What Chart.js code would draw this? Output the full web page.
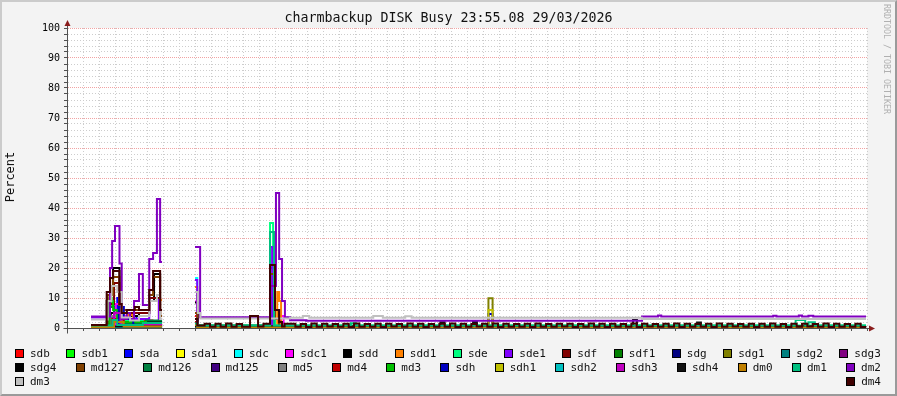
<!DOCTYPE html>
<html>
<head>
<meta charset="utf-8">
<script src="https://cdn.jsdelivr.net/npm/chart.js@4.4.1/dist/chart.umd.min.js"></script>
<style>
  html, body { margin: 0; padding: 0; }
  #wrap { position: relative; width: 897px; height: 396px; background: #f3f3f3; overflow: hidden;
          font-family: "DejaVu Sans Mono", monospace; }
  #chart { position: absolute; left: 0; top: 0; }
  #frame { position: absolute; left: 0; top: 0; width: 897px; height: 396px; box-sizing: border-box;
           border-top: 2px solid #cbcbcb; border-left: 2px solid #cbcbcb;
           border-right: 2px solid #9a9a9a; border-bottom: 2px solid #9a9a9a; pointer-events: none; }
  #title { position: absolute; left: 0; top: 10px; width: 897px; text-align: center; font-size: 13.3px; color: #111; }
  #ylabel { position: absolute; left: -20px; top: 170px; width: 60px; text-align: center; font-size: 12px;
            transform: rotate(-90deg); color: #111; }
  #mark { position: absolute; left: 882px; top: 4px; writing-mode: vertical-rl; font-size: 8.3px; color: #b0b0b0; }
  .row { position: absolute; left: 15px; width: 866px; height: 14px; display: flex; justify-content: space-between;
         align-items: center; font-size: 11px; line-height: 14px; color: #111; }
  .item { display: flex; align-items: center; white-space: pre; }
  .box { width: 7px; height: 7px; border: 1px solid #000; margin-right: 6px; }
</style>
</head>
<body>
<div id="wrap">
  <canvas id="chart" width="897" height="396"></canvas>
  <div id="title">charmbackup DISK Busy 23:55.08 29/03/2026</div>
  <div id="ylabel">Percent</div>
  <div id="mark">RRDTOOL / TOBI OETIKER</div>
  <div id="legend"></div>
  <div id="frame"></div>
</div>
<script>
// series names and colours, in rrdtool legend order
const names = ["sdb","sdb1","sda","sda1","sdc","sdc1","sdd","sdd1","sde","sde1","sdf","sdf1","sdg","sdg1","sdg2","sdg3",
               "sdg4","md127","md126","md125","md5","md4","md3","sdh","sdh1","sdh2","sdh3","sdh4","dm0","dm1","dm2",
               "dm3","dm4"];
const colors = ["#FF0000","#00FF00","#0000FF","#FFFF00","#00FFFF","#FF00FF","#000000","#FF8000","#00FF80","#8000FF",
                "#800000","#008000","#000080","#808000","#008080","#800080","#000000","#804000","#008040","#400080",
                "#808080","#C00000","#00C000","#0000C0","#C0C000","#00C0C0","#C000C0","#111111","#C08000","#00C080",
                "#8000C0","#C0C0C0","#400000"];
const legendRows = [16, 15, 2];

// x axis: hours from Monday 00:00
const xMin = -0.97, xMax = 24.03;
const xTickHours = [0, 3, 6, 9, 12, 15, 18, 21];
const xTickLabels = ["Mon 00:00","Mon 03:00","Mon 06:00","Mon 09:00","Mon 12:00","Mon 15:00","Mon 18:00","Mon 21:00"];
const yLabelValues = [0, 10, 20, 30, 40, 50, 60, 70, 80, 90, 100];

// each series: [hour, percent] change points, value holds until the next point; null = no data from there
const sdb   = [[-0.22,0.6],[0.4,3],[0.75,1.5],[1.3,2.5],[1.7,1],[2.0,null],[3.03,4],[3.1,0.4],[24,null]];
const sdb1  = [[-0.22,0.5],[0.36,10],[0.44,7],[0.53,4],[0.7,1.2],[1.6,2],[2.0,null],[3.03,2],[3.1,0.3],[24,null]];
const sda   = [[-0.22,0.4],[0.6,10],[0.7,7],[0.8,2],[1.0,4],[1.2,2],[2.0,null],[3.03,5],[3.1,0.3],[24,null]];
const sda1  = [[-0.22,0.5],[0.5,5],[0.75,2],[1.0,3],[1.3,2],[2.0,null],[3.03,12],[3.1,0.5],[24,null]];
const sdc   = [[-0.22,0.3],[0.4,3],[0.8,2],[2.0,null],[3.03,16.7],[3.1,0.4],[5.375,10],[5.45,0.4],[24,null]];
const sdc1  = [[-0.22,0.4],[0.55,8],[0.75,4],[1.0,1.5],[2.0,null],[3.03,8.8],[3.1,0.4],[5.7,4],[5.8,0.4],[24,null]];
const sdd   = [[-0.22,0.8],[0.27,9],[0.375,14],[0.47,20],[0.67,6],[0.74,3],[1.0,4],[1.28,5],[1.6,9],[1.75,18],[1.94,4],
               [2.0,null],[3.03,8.5],[3.12,0.8],[5.375,20],[5.53,6],[5.66,0.5],[24,null]];
const sdd1  = [[-0.22,0.5],[0.5,6],[0.7,3],[0.9,4.3],[1.1,2],[1.9,9.3],[2.0,null],[3.03,13.7],[3.1,0.5],[5.6,12],[5.66,9],
               [5.72,0.5],[24,null]];
const sde   = [[-0.22,0.8],[0.5,2.5],[1.4,2],[2.0,null],[3.03,1.5],[3.1,0.8],[5.375,35],[5.47,26],[5.53,0.8],[24,null]];
const sde1  = [[-0.22,3.5],[0.5,15],[0.67,3],[1.6,10],[1.9,3],[2.0,null],[3.03,16],[3.1,0.6],[5.375,27],[5.44,0.6],[24,null]];
const sdf   = [[-0.22,0.8],[0.3,8],[0.5,15],[0.67,5],[1.6,10],[1.94,3],[2.0,null],[3.03,3],[3.1,0.6],[24,null]];
const sdf1  = [[-0.22,0.3],[0.4,3],[0.7,1],[2.0,null],[3.03,1],[3.1,0.3],[24,null]];
const sdg   = [[-0.22,0.2],[2.0,null],[3.03,0.5],[24,null]];
const sdg1  = [[-0.22,0.2],[2.0,null],[3.03,0.3],[12.2,9.9],[12.33,0.3],[24,null]];
const sdg2  = [[-0.22,0.3],[0.5,2],[0.8,0.5],[2.0,null],[3.03,2],[3.1,0.5],[24,null]];
const sdg3  = [[-0.22,0.4],[0.5,3],[0.8,1],[2.0,null],[3.03,1],[3.1,0.4],[24,null]];
const sdg4  = [[-0.22,0.6],[0.4,5],[0.7,2],[2.0,null],[3.03,2],[3.1,0.6],[24,null]];
const md127 = [[-0.22,0.6],[0.3,11],[0.47,17],[0.67,6],[1.6,11],[1.72,17],[1.94,4],[2.0,null],[3.03,5],[3.1,0.5],
               [5.375,18],[5.53,3],[5.66,0.5],[24,null]];
const md126 = [[-0.22,0.5],[0.36,7],[0.5,3],[0.7,1.5],[1.5,2.5],[2.0,null],[3.03,2],[3.1,0.6],[24,null]];
const md125 = [[-0.22,0.3],[0.5,2],[0.8,0.5],[2.0,null],[3.03,1],[3.1,0.3],[24,null]];
const md5   = [[-0.22,0.5],[0.4,4],[0.75,1],[2.0,null],[3.03,2],[3.1,0.5],[24,null]];
const md4   = [[-0.22,0.4],[0.45,3],[0.8,1],[2.0,null],[3.03,2],[3.1,0.4],[24,null]];
const md3   = [[-0.22,0.5],[0.36,9],[0.47,6],[0.6,2],[1.5,1.5],[2.0,null],[3.03,1],[3.1,0.4],[24,null]];
const sdh   = [[-0.22,0.3],[0.65,7],[0.8,3],[1.1,1],[2.0,null],[3.03,3],[3.1,0.3],[12.2,4.7],[12.33,0.3],[24,null]];
const sdh1  = [[-0.22,0.3],[2.0,null],[3.03,0.3],[12.2,6],[12.33,0.3],[24,null]];
const sdh2  = [[-0.22,0.3],[2.0,null],[3.03,0.4],[24,null]];
const sdh3  = [[-0.22,0.3],[0.5,5],[0.7,1],[2.0,null],[3.03,1],[3.1,0.3],[24,null]];
const sdh4  = [[-0.22,0.5],[2.0,null],[3.03,0.5],[10.7,1.9],[10.83,0.5],[11.72,2],[11.84,0.5],[16.72,2.7],[16.84,0.5],
               [18.72,1.8],[18.84,0.5],[24,null]];
const dm0   = [[-0.22,0.3],[0.5,2],[0.8,0.5],[2.0,null],[3.03,1],[3.1,0.2],[24,null]];
const dm1   = [[-0.22,0.8],[0.45,2.7],[0.6,1],[1.4,1.7],[2.0,null],[3.03,1.5],[3.1,0.8],[5.375,32],[5.5,0.8],[7.9,1.6],
               [8.05,0.8],[21.8,2.7],[22.1,0.8],[22.2,1.9],[22.4,0.8],[24,null]];
const dm2   = [[-0.22,3.8],[0.375,20],[0.44,29],[0.53,34],[0.67,21.5],[0.74,3],[0.9,5],[1.0,3],[1.125,9],[1.28,18],
               [1.4,7.7],[1.6,23],[1.72,25],[1.84,43],[1.94,22],[2.0,null],[3.03,27],[3.19,3.6],[5.375,14],[5.56,45],
               [5.66,23],[5.75,9],[5.84,3.6],[6.0,2.6],[6.5,2.4],[17.0,3.8],[17.5,4.2],[17.6,3.8],[21.1,4.1],[21.2,3.8],
               [21.9,4.2],[22.0,3.8],[22.2,4.1],[22.35,3.8],[24,null]];
const dm3   = [[-0.22,2.8],[0.3,9],[0.42,14],[0.6,12],[0.74,3.5],[1.0,2.5],[1.28,4],[1.6,9],[1.84,11],[1.94,3],[2.0,null],
               [3.03,12],[3.12,5],[3.2,3.2],[6.0,3.4],[6.4,4],[6.6,3.4],[8.6,4],[8.9,3.4],[9.6,3.9],[9.8,3.4],[17.0,3.0],
               [24,null]];
const dm4   = [[-0.22,1],[0.27,12],[0.375,16.7],[0.47,19],[0.67,8],[0.74,5],[0.9,6],[1.15,7],[1.28,6],[1.6,12.7],
               [1.72,19],[1.94,6],[2.0,null],[3.03,3],[3.1,0.8],[3.33,1.4],[3.5,0.4],[3.67,1.4],[3.83,0.4],[4.0,1.5],
               [4.17,0.4],[4.33,1.3],[4.5,0.4],[4.75,4],[5.0,0.5],[5.17,1.4],[5.375,21],[5.53,6],[5.66,2],[5.75,0.5],
               [5.83,1.4]];
// dm4 from 06:00 on, one value every 10 minutes
const dm4Late = [1.4,0.4,1.3,0.3,1.5,0.4,1.4,0.5,1.3,0.4,1.4,0.3,
                 1.5,0.4,1.3,0.4,1.4,0.3,1.4,0.5,1.3,0.4,1.5,0.4,
                 1.4,0.3,1.3,0.4,1.4,0.4,1.5,0.3,1.4,0.4,1.3,0.5,
                 1.4,0.4,1.5,0.3,1.4,0.4,1.3,0.4,1.4,0.3,1.5,0.4,
                 1.3,0.4,1.4,0.5,1.4,0.3,1.3,0.4,1.5,0.4,1.4,0.3,
                 1.4,0.4,1.3,0.4,1.5,0.3,1.4,0.5,1.3,0.4,1.4,0.4,
                 1.5,0.3,1.4,0.4,1.3,0.4,1.4,0.3,1.5,0.4,1.4,0.5,
                 1.3,0.4,1.4,0.3,1.4,0.4,1.5,0.4,1.3,0.3,1.4,0.4,
                 1.4,0.5,1.3,0.4,1.5,0.3,1.4,0.4,1.3,0.4,1.4,0.3];

const seriesData = [sdb,sdb1,sda,sda1,sdc,sdc1,sdd,sdd1,sde,sde1,sdf,sdf1,sdg,sdg1,sdg2,sdg3,sdg4,md127,md126,md125,
                    md5,md4,md3,sdh,sdh1,sdh2,sdh3,sdh4,dm0,dm1,dm2,dm3,
                    dm4.concat(dm4Late.map((v, i) => [6 + i / 6, v]), [[24, null]])];

// turn change points into chart points; a null closes the running segment
function toPoints(pairs) {
    const pts = [];
    let last = null;
    pairs.forEach(([x, y]) => {
        if (y === null) {
            if (last !== null) pts.push({ x: x, y: last });
            pts.push({ x: x, y: null });
            last = null;
        } else {
            pts.push({ x: x, y: y });
            last = y;
        }
    });
    return pts;
}

const datasets = names.map((name, i) => ({
    label: name,
    data: toPoints(seriesData[i]),
    borderColor: colors[i],
    backgroundColor: colors[i],
    borderWidth: 2,
    stepped: true,
    pointRadius: 0,
    fill: false,
    spanGaps: false,
    order: names.length - i // later series on top, like rrdtool
}));

const PINK = "#f2a3a3";
const GRAY = "#cdcdcd";

// white canvas area, extended axes and the little arrows
const rrdFrame = {
    id: "rrdFrame",
    beforeDraw(chart) {
        const { ctx, chartArea: a } = chart;
        ctx.save();
        ctx.fillStyle = "#ffffff";
        ctx.fillRect(a.left, a.top, a.right - a.left, a.bottom - a.top);
        ctx.restore();
    },
    afterDraw(chart) {
        const { ctx, chartArea: a } = chart;
        const ax = Math.round(a.left) + 0.5, ay = Math.round(a.bottom) + 0.5;
        ctx.save();
        ctx.strokeStyle = "#505050";
        ctx.lineWidth = 1;
        ctx.beginPath();
        ctx.moveTo(ax, a.top - 4);
        ctx.lineTo(ax, ay + 5);
        ctx.moveTo(ax - 4, ay);
        ctx.lineTo(a.right + 3, ay);
        ctx.stroke();
        ctx.fillStyle = "#8a1c1c";
        ctx.beginPath();
        ctx.moveTo(ax, a.top - 8);
        ctx.lineTo(ax - 3, a.top - 2);
        ctx.lineTo(ax + 3, a.top - 2);
        ctx.closePath();
        ctx.fill();
        ctx.beginPath();
        ctx.moveTo(a.right + 8, ay);
        ctx.lineTo(a.right + 2, ay - 3);
        ctx.lineTo(a.right + 2, ay + 3);
        ctx.closePath();
        ctx.fill();
        ctx.restore();
    }
};

const tickFont = { family: "'DejaVu Sans Mono', monospace", size: 10 };

new Chart(document.getElementById("chart").getContext("2d"), {
    type: "line",
    data: { datasets: datasets },
    plugins: [rrdFrame],
    options: {
        responsive: false,
        animation: false,
        devicePixelRatio: 1,
        layout: { padding: { left: 27, top: 28, right: 30, bottom: 48 } },
        plugins: { legend: { display: false }, title: { display: false }, tooltip: { enabled: false } },
        scales: {
            x: {
                type: "linear",
                min: xMin,
                max: xMax,
                afterFit: (s) => { s.height = 20; },
                ticks: {
                    stepSize: 0.5,
                    includeBounds: false,
                    autoSkip: false,
                    maxRotation: 0,
                    padding: 1,
                    font: tickFont,
                    color: "#000",
                    callback: (v) => {
                        const k = xTickHours.indexOf(v);
                        return k >= 0 ? xTickLabels[k] : "";
                    }
                },
                grid: {
                    color: (c) => (c.tick && c.tick.value % 1 === 0 ? PINK : GRAY),
                    tickColor: "#505050",
                    tickLength: 3,
                    tickBorderDash: []
                },
                border: {
                    display: true,
                    color: "#505050",
                    dash: (c) => (c.tick && c.tick.value % 1 === 0 ? [1, 1] : [1, 2])
                }
            },
            y: {
                min: 0,
                max: 100,
                afterFit: (s) => { s.width = 40; },
                ticks: {
                    stepSize: 2,
                    autoSkip: false,
                    padding: 4,
                    font: tickFont,
                    color: "#000",
                    callback: (v) => (yLabelValues.includes(v) ? String(v) : "")
                },
                grid: {
                    color: (c) => (c.tick && c.tick.value % 10 === 0 ? PINK : GRAY),
                    tickColor: "#505050",
                    tickLength: 3,
                    tickBorderDash: []
                },
                border: {
                    display: true,
                    color: "#505050",
                    dash: (c) => (c.tick && c.tick.value % 10 === 0 ? [1, 1] : [1, 2])
                }
            }
        }
    }
});

// rrdtool style legend, rows justified across the width
const legend = document.getElementById("legend");
let idx = 0;
legendRows.forEach((count, r) => {
    const row = document.createElement("div");
    row.className = "row";
    row.style.top = (346.5 + r * 14) + "px";
    for (let k = 0; k < count; k++, idx++) {
        const item = document.createElement("div");
        item.className = "item";
        item.innerHTML = `<span class="box" style="background:${colors[idx]}"></span>${names[idx]}`;
        row.appendChild(item);
    }
    legend.appendChild(row);
});
</script>
</body>
</html>
